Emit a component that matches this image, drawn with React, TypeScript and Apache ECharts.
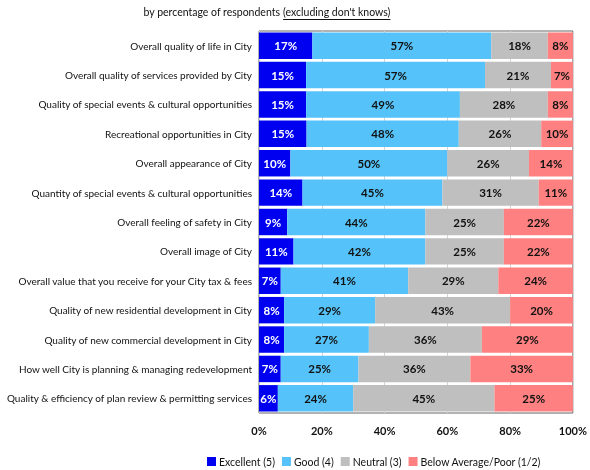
import React, { useEffect, useRef } from "react";
import * as echarts from "echarts";

const categories = [
  "Overall quality of life in City",
  "Overall quality of services provided by City",
  "Quality of special events & cultural opportunities",
  "Recreational opportunities in City",
  "Overall appearance of City",
  "Quantity of special events & cultural opportunities",
  "Overall feeling of safety in City",
  "Overall image of City",
  "Overall value that you receive for your City tax & fees",
  "Quality of new residential development in City",
  "Quality of new commercial development in City",
  "How well City is planning & managing redevelopment",
  "Quality & efficiency of plan review & permitting services",
];
const excellent = [17, 15, 15, 15, 10, 14, 9, 11, 7, 8, 8, 7, 6];
const good = [57, 57, 49, 48, 50, 45, 44, 42, 41, 29, 27, 25, 24];
const neutral = [18, 21, 28, 26, 26, 31, 25, 25, 29, 43, 36, 36, 45];
const belowPoor = [8, 7, 8, 10, 14, 11, 22, 22, 24, 20, 29, 33, 25];
const seriesNames = ["Excellent (5)", "Good (4)", "Neutral (3)", "Below Average/Poor (1/2)"];
const titlePlain = "by percentage of respondents ";
const titleUnderlined = "(excluding don't knows)";

const FONT = "Lato, 'Open Sans', sans-serif";

function measure(text: string, font: string): number {
  const c = document.createElement("canvas").getContext("2d");
  if (!c) return text.length * 5;
  c.font = font;
  return c.measureText(text).width;
}

export default function App() {
  const ref = useRef<HTMLDivElement>(null);
  useEffect(() => {
    if (!ref.current) return;
    const chart = echarts.init(ref.current, null, { renderer: "svg" });
    const colors = ["#0000F0", "#55C3FA", "#BFBFBF", "#FF8080"];
    const labelColors = ["#FFFFFF", "#111111", "#111111", "#111111"];
    const datasets = [excellent, good, neutral, belowPoor];
    // 100% stacked: normalise each row by its total, as the original chart does
    const totals = categories.map((_, r) => datasets.reduce((s, d) => s + d[r], 0));
    const titleFont = `10.5px Lato`;
    const w1 = measure(titlePlain, titleFont);
    const w2 = measure(titleUnderlined, titleFont);
    const tx = 267 - (w1 + w2) / 2;
    chart.setOption({
      animation: false,
      textStyle: { fontFamily: FONT },
      graphic: [
        {
          type: "text",
          x: tx,
          y: 12,
          style: { text: titlePlain, font: titleFont, fill: "#111", textVerticalAlign: "middle" },
        },
        {
          type: "text",
          x: tx + w1,
          y: 12,
          style: { text: titleUnderlined, font: titleFont, fill: "#111", textVerticalAlign: "middle" },
        },
        {
          type: "line",
          shape: { x1: tx + w1, y1: 19.5, x2: tx + w1 + w2, y2: 19.5 },
          style: { stroke: "#111", lineWidth: 1 },
        },
      ],
      legend: {
        left: 202,
        top: 451,
        itemWidth: 9,
        itemHeight: 9,
        itemGap: 7,
        itemStyle: { borderWidth: 0 },
        icon: "rect",
        textStyle: { fontSize: 10.5, color: "#111", fontFamily: FONT, padding: [0, 0, 0, -2] },
        data: seriesNames,
      },
      grid: {
        left: 259,
        right: 14,
        top: 31,
        bottom: 57,
        show: true,
        borderColor: "#666",
        borderWidth: 1,
      },
      xAxis: {
        type: "value",
        min: 0,
        max: 100,
        interval: 20,
        axisLine: { show: false },
        axisTick: { show: false },
        splitLine: { show: true, lineStyle: { color: "#D4D4D4" } },
        axisLabel: {
          formatter: "{value}%",
          fontWeight: "bold",
          fontSize: 11,
          color: "#111",
          margin: 12,
          fontFamily: FONT,
        },
      },
      yAxis: {
        type: "category",
        data: categories,
        inverse: true,
        axisLine: { show: false },
        axisTick: { show: false },
        axisLabel: { fontSize: 10, color: "#111", margin: 7, fontFamily: FONT },
      },
      series: datasets.map((d, i) => ({
        name: seriesNames[i],
        type: "bar",
        stack: "total",
        data: d.map((v, r) => (v / totals[r]) * 100),
        barCategoryGap: "10%",
        clip: true,
        itemStyle: { color: colors[i] },
        label: {
          show: true,
          position: "inside",
          formatter: (p: any) => `${d[p.dataIndex]}%`,
          color: labelColors[i],
          fontWeight: "bold",
          fontSize: 11.5,
          fontFamily: FONT,
        },
      })),
    });
    return () => chart.dispose();
  }, []);
  return (
    <div
      ref={ref}
      style={{ position: "fixed", left: 0, top: 0, width: 590, height: 470 }}
    />
  );
}
